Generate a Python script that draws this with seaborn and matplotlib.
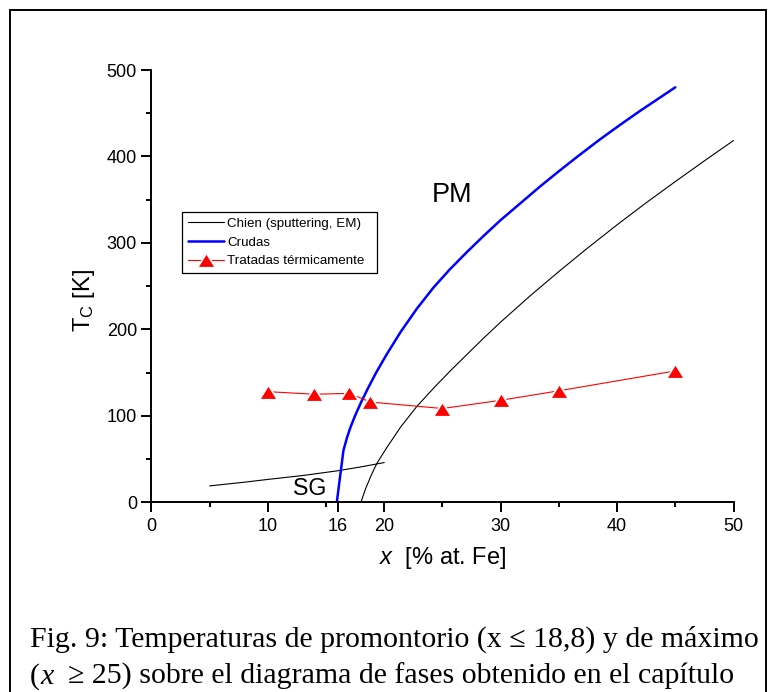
import numpy as np
import pandas as pd
import matplotlib
matplotlib.use("Agg")
import matplotlib.pyplot as plt
import seaborn as sns
from matplotlib.patches import Rectangle
from matplotlib.path import Path
from matplotlib.ticker import FixedLocator, MultipleLocator

# Chien (sputtering, EM): SG boundary and PM boundary
chien_sg_x = [5, 8, 10, 13, 16, 18, 20]
chien_sg_y = [19, 23.3, 26.5, 31, 36.5, 41, 46]
chien_pm_x = [17.99, 18.4, 18.9, 19.36, 20.2, 21.4, 22.8, 24.3, 25.7, 27.1,
              28.5, 30.0, 32.5, 35.0, 37.5, 40.0, 42.5, 45.0, 47.5, 50.0]
chien_pm_y = [0, 16, 32, 45, 63, 87, 111, 133, 152.5, 171,
              189.5, 208.5, 238.5, 267, 294.5, 321, 346.5, 371, 395, 418.5]

# Crudas
crudas_x = [15.92, 16.49, 16.8, 17.1, 17.5, 18.0, 18.6, 19.3, 20.2, 21.4,
            22.8, 24.2, 25.6, 27.1, 28.6, 30.0, 31.7, 33.4, 35.0, 36.7,
            38.5, 40.3, 42.0, 43.5, 45.0]
crudas_y = [0, 60, 75, 87, 100.5, 115.5, 132, 150, 171, 197,
            224, 248, 269, 289.5, 309, 326.5, 346, 365.5, 383, 401,
            419.5, 437, 453, 466.5, 480]

# Tratadas termicamente
tratadas_x = [10, 14, 17, 18.8, 25, 30, 35, 45]
tratadas_y = [128, 125, 126, 116, 108.5, 118, 129, 152]

x_major_ticks = [0, 10, 16, 20, 30, 40, 50]
x_minor_ticks = [5, 15, 25, 35, 45]

caption_1 = "Fig. 9: Temperaturas de promontorio (x \u2264 18,8) y de máximo"
caption_2a = "("
caption_2b = "x"
caption_2c = "  \u2265 25) sobre el diagrama de fases obtenido en el capítulo"

sns.set_style("ticks")
plt.rcParams["font.family"] = ["Liberation Sans", "DejaVu Sans"]
plt.rcParams["mathtext.fontset"] = "custom"
plt.rcParams["mathtext.rm"] = "Liberation Sans"
plt.rcParams["mathtext.it"] = "Liberation Sans:italic"
plt.rcParams["text.color"] = "black"
plt.rcParams["axes.labelcolor"] = "black"

sg_df = pd.DataFrame({"x": chien_sg_x, "T": chien_sg_y})
pm_df = pd.DataFrame({"x": chien_pm_x, "T": chien_pm_y})
cr_df = pd.DataFrame({"x": crudas_x, "T": crudas_y})
tr_df = pd.DataFrame({"x": tratadas_x, "T": tratadas_y})

# slightly flattened triangle like the original
tri = Path([(0, 0.8), (-1, -0.8), (1, -0.8), (0, 0.8)],
           [Path.MOVETO, Path.LINETO, Path.LINETO, Path.CLOSEPOLY])

fig = plt.figure(figsize=(7.74, 6.92), dpi=100)
ax = fig.add_axes([0.1957, 0.2741, 0.752, 0.6247])

sns.lineplot(data=sg_df, x="x", y="T", ax=ax, color="black", linewidth=0.8,
             sort=False, estimator=None, label="Chien (sputtering, EM)")
sns.lineplot(data=pm_df, x="x", y="T", ax=ax, color="black", linewidth=0.8,
             sort=False, estimator=None, label="_nolegend_")
sns.lineplot(data=cr_df, x="x", y="T", ax=ax, color="#0000ff", linewidth=1.8,
             sort=False, estimator=None, label="Crudas")
sns.lineplot(data=tr_df, x="x", y="T", ax=ax, color="#ff0000", linewidth=0.8,
             sort=False, estimator=None, marker=tri, markersize=13,
             markeredgecolor="white", markeredgewidth=1.2,
             label="Tratadas térmicamente")

ax.set_xlim(0, 50)
ax.set_ylim(0, 500)
ax.xaxis.set_major_locator(FixedLocator(x_major_ticks))
ax.xaxis.set_minor_locator(FixedLocator(x_minor_ticks))
ax.yaxis.set_major_locator(MultipleLocator(100))
ax.yaxis.set_minor_locator(MultipleLocator(50))
ax.tick_params(which="major", direction="out", length=7, width=1.4,
               labelsize=13, color="black", labelcolor="black")
ax.tick_params(axis="y", which="major", pad=3.5)
ax.tick_params(axis="x", which="major", pad=4)
ax.tick_params(which="minor", direction="out", length=3.8, width=1.4,
               color="black")
sns.despine(ax=ax)
for s in ["left", "bottom"]:
    ax.spines[s].set_linewidth(1.4)
    ax.spines[s].set_color("black")

ax.set_xlabel(r"$x$  [% at. Fe]", fontsize=17)
ax.set_ylabel(r"T$_\mathrm{C}$ [K]", fontsize=17)
ax.xaxis.set_label_coords(0.5, -0.099)
ax.yaxis.set_label_coords(-0.094, 0.466)

ax.text(25.86, 355, "PM", fontsize=19.5, ha="center", va="center")
ax.text(13.6, 16.5, "SG", fontsize=16.7, ha="center", va="center")

# legend box stretched to the original width
leg = ax.legend(loc="upper left", bbox_to_anchor=(0.0519, 0.572, 0.335, 0.1),
                mode="expand", borderaxespad=0, fontsize=9.6, frameon=True,
                fancybox=False, framealpha=1, edgecolor="black",
                handlelength=2.7, handletextpad=0.25, labelspacing=0.47,
                borderpad=0.45)
leg.get_frame().set_linewidth(0.9)

# outer frame
fig.add_artist(Rectangle((10 / 774, -0.05), (766 - 10) / 774,
                         1.05 - 10 / 692, transform=fig.transFigure,
                         fill=False, edgecolor="black", linewidth=1.4))

serif = ["Liberation Serif", "DejaVu Serif"]
cap_size = 21.5
fig.text(30 / 774, 1 - 647 / 692, caption_1, family=serif, fontsize=cap_size,
         va="baseline", ha="left")
t1 = fig.text(30 / 774, 1 - 683.5 / 692, caption_2a, family=serif,
              fontsize=cap_size, va="baseline", ha="left")
t2 = ax.annotate(caption_2b, xy=(1, 0), xycoords=t1, va="bottom", ha="left",
                 family=serif, style="italic", fontsize=cap_size,
                 annotation_clip=False)
ax.annotate(caption_2c, xy=(1, 0), xycoords=t2, va="bottom", ha="left",
            family=serif, fontsize=cap_size, annotation_clip=False)

fig.savefig("out.png", dpi=100)
